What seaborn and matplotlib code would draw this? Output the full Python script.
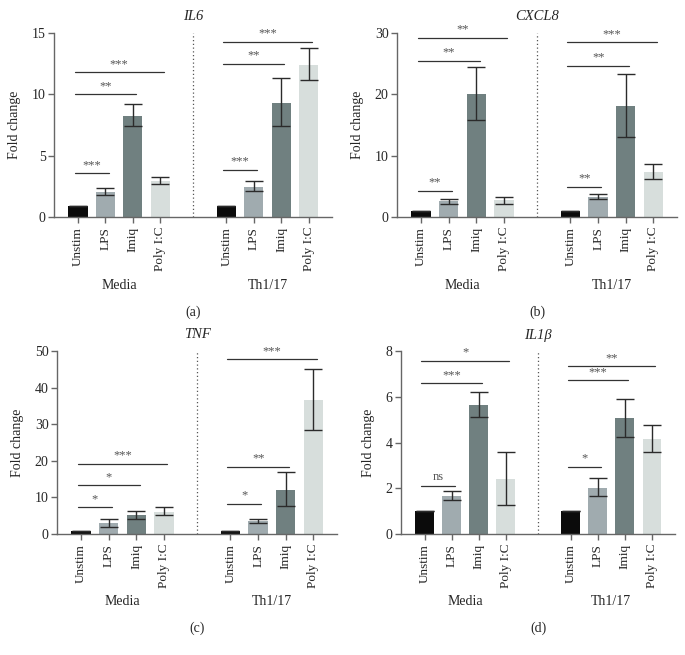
import numpy as np
import pandas as pd
import matplotlib
matplotlib.use("Agg")
import matplotlib.pyplot as plt
import matplotlib.transforms as mtransforms
import seaborn as sns

sns.set_style("white")
plt.rcParams['font.family'] = ['Liberation Serif', 'DejaVu Serif']

stims = ["Unstim", "LPS", "Imiq", "Poly I:C"]
groups = ["Media", "Th1/17"]
positions = [0, 1, 2, 3, 5.4, 6.4, 7.4, 8.4]
colors = {"Unstim": "#0b0b0b", "LPS": "#9dacb2", "Imiq": "#6d8383", "Poly I:C": "#d6dfdd"}

# mean fold change, Media then Th1/17
il6_mean = [0.9, 2.0, 8.2, 2.9, 0.9, 2.45, 9.3, 12.4]
il6_lo = [0.9, 1.8, 7.4, 2.65, 0.9, 2.15, 7.45, 11.2]
il6_hi = [0.9, 2.35, 9.2, 3.3, 0.9, 2.95, 11.35, 13.8]

cxcl8_mean = [0.9, 2.6, 20.0, 2.7, 0.9, 3.3, 18.1, 7.3]
cxcl8_lo = [0.9, 2.2, 15.8, 2.2, 0.9, 3.0, 13.1, 6.2]
cxcl8_hi = [0.9, 3.0, 24.4, 3.3, 0.9, 3.7, 23.3, 8.6]

tnf_mean = [0.8, 3.0, 5.1, 6.1, 0.8, 3.5, 12.1, 36.7]
tnf_lo = [0.8, 2.0, 4.0, 5.3, 0.8, 3.0, 7.6, 28.3]
tnf_hi = [0.8, 4.0, 6.4, 7.3, 0.8, 4.1, 16.9, 45.2]

il1b_mean = [1.0, 1.65, 5.62, 2.4, 1.0, 2.02, 5.05, 4.15]
il1b_lo = [1.0, 1.5, 5.1, 1.25, 1.0, 1.65, 4.22, 3.58]
il1b_hi = [1.0, 1.88, 6.2, 3.58, 1.0, 2.45, 5.88, 4.75]

# significance brackets: (from bar, to bar, height, label)
il6_sig = [(0, 1, 3.55, "***"), (0, 2, 10.0, "**"), (0, 3, 11.8, "***"),
           (4, 5, 3.85, "***"), (4, 6, 12.5, "**"), (4, 7, 14.3, "***")]
cxcl8_sig = [(0, 1, 4.3, "**"), (0, 2, 25.5, "**"), (0, 3, 29.2, "**"),
             (4, 5, 4.9, "**"), (4, 6, 24.7, "**"), (4, 7, 28.5, "***")]
tnf_sig = [(0, 1, 7.3, "*"), (0, 2, 13.3, "*"), (0, 3, 19.2, "***"),
           (4, 5, 8.2, "*"), (4, 6, 18.4, "**"), (4, 7, 47.7, "***")]
il1b_sig = [(0, 1, 2.12, "ns"), (0, 2, 6.6, "***"), (0, 3, 7.57, "*"),
            (4, 5, 2.95, "*"), (4, 6, 6.72, "***"), (4, 7, 7.33, "**")]

panels = [
    ("IL6", il6_mean, il6_lo, il6_hi, il6_sig, 15, [0, 5, 10, 15], "(a)",
     [54, 33, 332, 217]),
    ("CXCL8", cxcl8_mean, cxcl8_lo, cxcl8_hi, cxcl8_sig, 30, [0, 10, 20, 30], "(b)",
     [397, 33, 677, 217]),
    ("TNF", tnf_mean, tnf_lo, tnf_hi, tnf_sig, 50, [0, 10, 20, 30, 40, 50], "(c)",
     [57, 351, 337, 534]),
    ("IL1β", il1b_mean, il1b_lo, il1b_hi, il1b_sig, 8, [0, 2, 4, 6, 8], "(d)",
     [401, 351, 675, 534]),
]

W, H = 685, 655
fig = plt.figure(figsize=(W / 100, H / 100), dpi=100)
spine_col = "#666666"

for title, mean, lo, hi, sig, ymax, yticks, tag, box in panels:
    x0, y0, x1, y1 = box
    ax = fig.add_axes([x0 / W, 1 - y1 / H, (x1 - x0) / W, (y1 - y0) / H])
    df = pd.DataFrame({
        "pos": positions,
        "value": mean,
        "stim": stims * 2,
        "group": np.repeat(groups, 4),
    })
    sns.barplot(data=df, x="pos", y="value", hue="stim", palette=colors,
                native_scale=True, dodge=False, width=0.7, errorbar=None,
                legend=False, ax=ax, linewidth=0)
    m = np.array(mean)
    yerr = [m - np.array(lo), np.array(hi) - m]
    ax.errorbar(positions, mean, yerr=yerr, fmt="none", ecolor="#2b2b2b",
                elinewidth=1, capsize=6.5, capthick=1)

    for a, b, h, lab in sig:
        xa, xb = positions[a] - 0.12, positions[b] + 0.12
        ax.plot([xa, xb], [h, h], color="#333333", lw=0.9)
        ax.text((xa + xb) / 2, h + ymax * 0.012, lab, ha="center", va="bottom",
                fontsize=9, color="#555555")

    ax.axvline(4.2, color="#555555", ls=(0, (1, 2)), lw=0.9)
    ax.set_xlim(-0.87, 9.25)
    ax.set_ylim(0, ymax)
    ax.set_yticks(yticks)
    ax.set_xticks(positions)
    ax.set_xticklabels(stims * 2, rotation=90, fontsize=9.5)
    ax.tick_params(axis="y", labelsize=10, length=4, width=1, color=spine_col, pad=2,
                   left=True)
    ax.tick_params(axis="x", length=4, width=1, color=spine_col, pad=3, bottom=True)
    ax.set_xlabel("")
    ax.set_ylabel("Fold change", fontsize=10, labelpad=8)
    ax.set_title(title, fontsize=10.5, pad=9, style="italic")
    for s in ["top", "right"]:
        ax.spines[s].set_visible(False)
    for s in ["left", "bottom"]:
        ax.spines[s].set_color(spine_col)
        ax.spines[s].set_linewidth(1)

    trans = mtransforms.blended_transform_factory(ax.transData, ax.transAxes)
    ax.text(1.5, -0.37, "Media", transform=trans, ha="center", va="center", fontsize=10)
    ax.text(6.9, -0.37, "Th1/17", transform=trans, ha="center", va="center", fontsize=10)
    ax.text(4.2, -0.515, tag, transform=trans, ha="center", va="center", fontsize=10)

fig.savefig("out.png", dpi=100)
